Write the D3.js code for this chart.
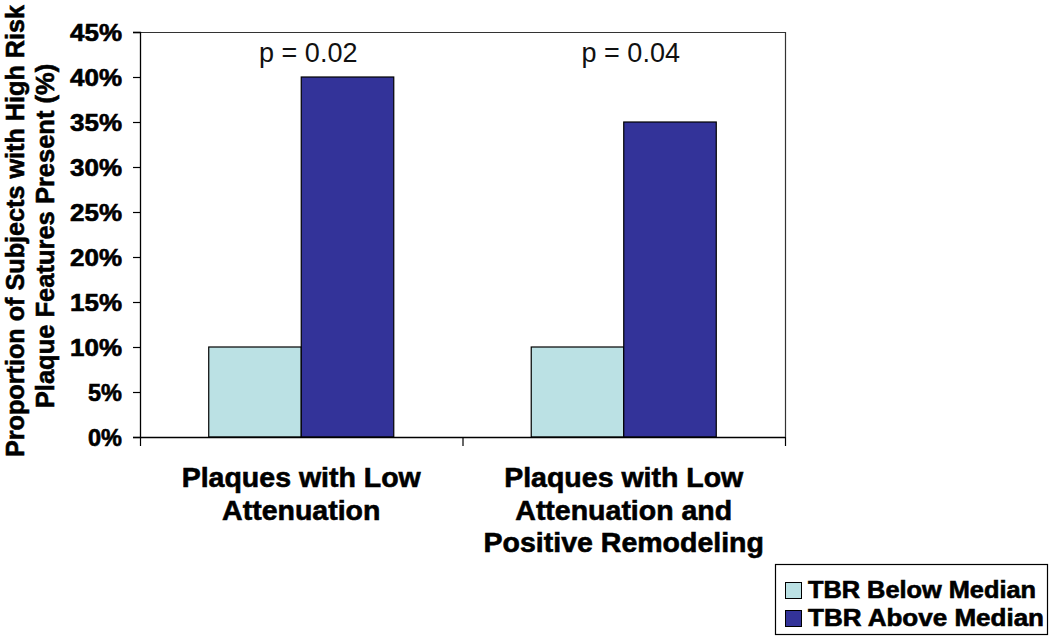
<!DOCTYPE html>
<html>
<head>
<meta charset="utf-8">
<script src="https://cdn.jsdelivr.net/npm/d3@7"></script>
<style>
  html, body { margin: 0; padding: 0; background: #fff; }
  svg { display: block; font-family: "Liberation Sans", Arial, sans-serif; }
  .heavy { font-weight: bold; stroke: #000; stroke-width: 0.6px; paint-order: stroke; }
</style>
</head>
<body>
<svg id="chart" width="1050" height="636"></svg>
<script>
// ---- Data ----
const categories = ["Plaques with Low Attenuation", "Plaques with Low Attenuation and Positive Remodeling"];
const categoryLines = [["Plaques with Low", "Attenuation"], ["Plaques with Low", "Attenuation and", "Positive Remodeling"]];
const seriesNames = ["TBR Below Median", "TBR Above Median"];
const belowMedian = [10, 10];
const aboveMedian = [40, 35];
const pValues = ["p = 0.02", "p = 0.04"];
const yTicks = [0, 5, 10, 15, 20, 25, 30, 35, 40, 45];
const yTitleLines = ["Proportion of Subjects with High Risk", "Plaque Features Present (%)"];
const colors = ["#BBE1E4", "#333399"];

// ---- Layout ----
const svg = d3.select("#chart");
const plot = { left: 140, right: 785, top: 32, bottom: 437 };

const x0 = d3.scaleBand().domain(d3.range(categories.length)).range([plot.left, plot.right]).paddingInner(0).paddingOuter(0);
const x1 = d3.scaleBand().domain(seriesNames).range([0, x0.bandwidth()]).paddingInner(0).paddingOuter(0.743);
const y = d3.scaleLinear().domain([0, 45]).range([plot.bottom, plot.top]);

// plot frame (top & right)
svg.append("path")
  .attr("d", `M${plot.left},${plot.top + 0.5}H${plot.right + 0.5}V${plot.bottom}`)
  .attr("fill", "none").attr("stroke", "#333").attr("stroke-width", 1.2);

// bars
const values = categories.map((c, i) => [belowMedian[i], aboveMedian[i]]);
const groups = svg.append("g").selectAll("g").data(values).join("g")
  .attr("transform", (d, i) => `translate(${x0(i)},0)`);
groups.selectAll("rect").data(d => d.map((v, j) => ({ v, s: seriesNames[j], j }))).join("rect")
  .attr("x", d => x1(d.s))
  .attr("width", x1.bandwidth())
  .attr("y", d => y(d.v))
  .attr("height", d => y(0) - y(d.v))
  .attr("fill", d => colors[d.j])
  .attr("stroke", "#000").attr("stroke-width", 1.2);

// y axis
const yAxis = d3.axisLeft(y).tickValues(yTicks).tickSize(7).tickFormat(d => d + "%");
const gy = svg.append("g").attr("transform", `translate(${plot.left},0)`).call(yAxis);
gy.select(".domain").attr("stroke", "#000").attr("stroke-width", 1.3);
gy.selectAll(".tick line").attr("stroke", "#000").attr("stroke-width", 1.2);
gy.selectAll(".tick text")
  .attr("class", "heavy")
  .attr("x", -18)
  .attr("dy", "0.38em")
  .attr("fill", "#000")
  .style("font-size", "23px")
  .attr("textLength", function(d) { return d < 10 ? 34 : 52; })
  .attr("lengthAdjust", "spacingAndGlyphs");

// x axis line with category separator ticks
const xTickPos = d3.range(categories.length + 1).map(i => i === categories.length ? plot.right : x0(i));
const xScaleLin = d3.scaleLinear().domain([plot.left, plot.right]).range([plot.left, plot.right]);
const gx = svg.append("g").attr("transform", `translate(0,${plot.bottom})`)
  .call(d3.axisBottom(xScaleLin).tickValues(xTickPos).tickSize(9).tickFormat(""));
gx.select(".domain").attr("stroke", "#000").attr("stroke-width", 1.3).attr("d", `M${plot.left},0.5H${plot.right}`);
gx.selectAll(".tick line").attr("stroke", "#000").attr("stroke-width", 1.2);

// category labels
const catG = svg.append("g");
categoryLines.forEach((lines, i) => {
  const cx = x0(i) + x0.bandwidth() / 2;
  lines.forEach((ln, k) => {
    catG.append("text")
      .attr("class", "heavy")
      .attr("x", cx).attr("y", 487 + k * 32.5)
      .attr("text-anchor", "middle")
      .style("font-size", "28.5px")
      .text(ln);
  });
});

// p-value labels
svg.append("g").selectAll("text").data(pValues).join("text")
  .attr("x", (d, i) => x0(i) + x0.bandwidth() / 2 + 7)
  .attr("y", 62)
  .attr("text-anchor", "middle")
  .style("font-size", "27px")
  .attr("fill", "#111")
  .text(d => d);

// y title
const yt = svg.append("g").attr("transform", `translate(0,231) rotate(-90)`);
yTitleLines.forEach((ln, k) => {
  const t = yt.append("text")
    .attr("class", "heavy")
    .attr("x", k === 0 ? 0 : -5).attr("y", 24 + k * 30)
    .attr("text-anchor", "middle")
    .style("font-size", "25.5px")
    .text(ln);
  if (k === 0) t.attr("textLength", 452).attr("lengthAdjust", "spacingAndGlyphs");
});

// legend
const lg = svg.append("g");
lg.append("rect").attr("x", 775.5).attr("y", 564.5).attr("width", 272).attr("height", 70)
  .attr("fill", "#fff").attr("stroke", "#000").attr("stroke-width", 1.2);
seriesNames.forEach((s, i) => {
  const yy = 582 + i * 28;
  lg.append("rect").attr("x", 785.5).attr("y", yy + 0.5).attr("width", 16).attr("height", 16)
    .attr("fill", colors[i]).attr("stroke", "#000").attr("stroke-width", 1);
  lg.append("text").attr("class", "heavy").attr("x", 808).attr("y", yy + 16)
    .style("font-size", "23px")
    .attr("textLength", i === 0 ? 228 : 236)
    .attr("lengthAdjust", "spacingAndGlyphs")
    .text(s);
});
</script>
</body>
</html>
